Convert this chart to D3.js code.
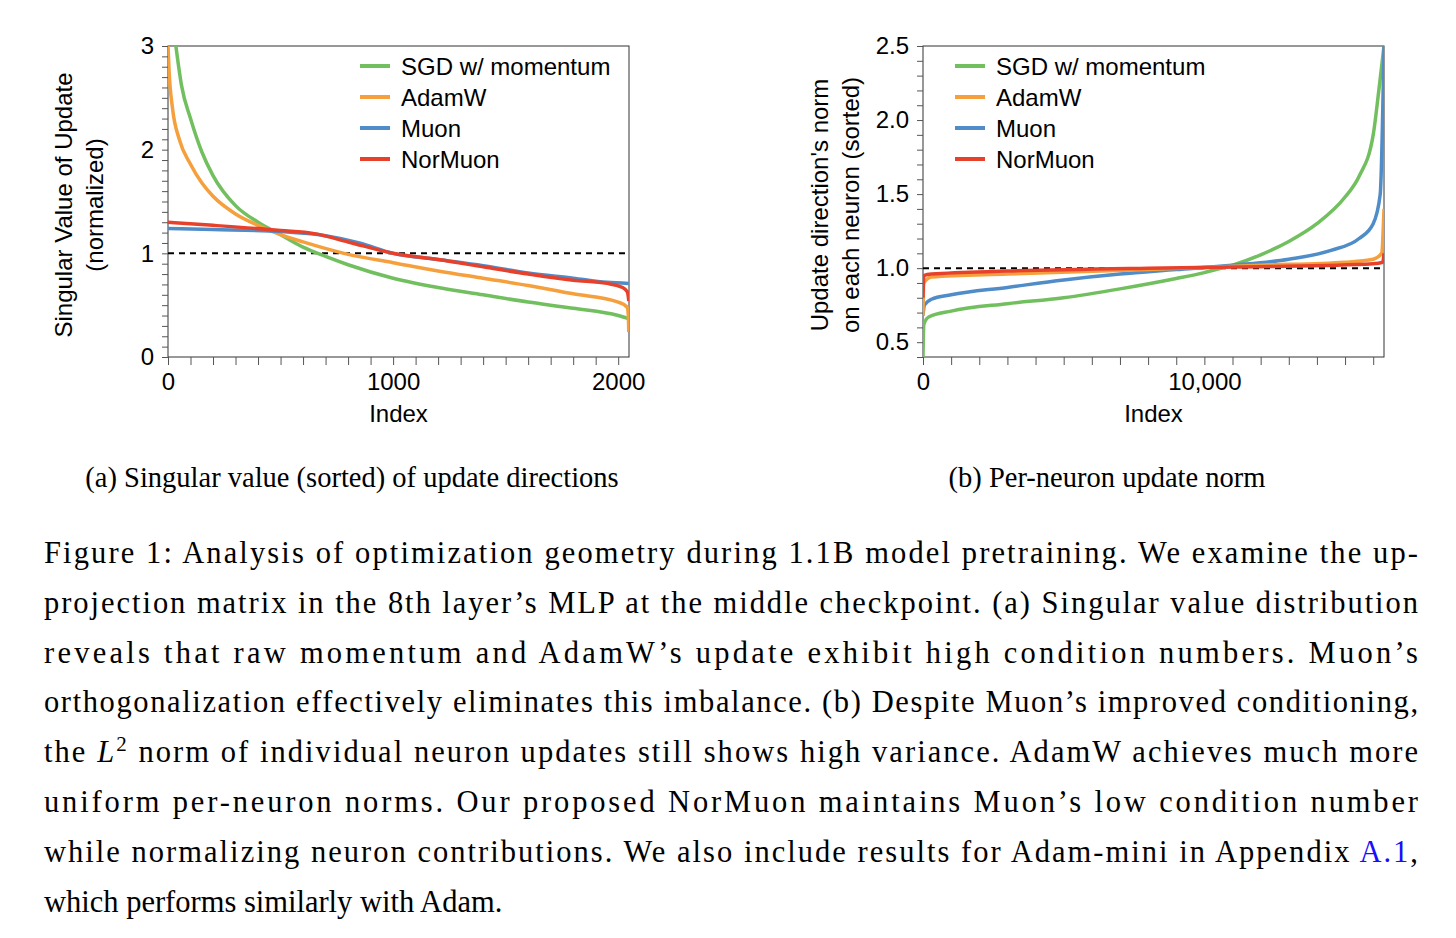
<!DOCTYPE html>
<html><head><meta charset="utf-8">
<script src="https://cdn.jsdelivr.net/npm/d3@7"></script>
<style>body{margin:0;background:#fff}</style>
</head><body><svg id="c" width="1456" height="938"></svg>
<script>
const seriesNames = ["SGD w/ momentum","AdamW","Muon","NorMuon"];
const colors = ["#72bf5f","#f5a03c","#4f8cc8","#e8412b"];
// Panel (a): singular values
const aSGD_x = [35,60,100,150,200,300,400,500,600,700,800,1000,1200,1400,1600,1800,2000,2045];
const aSGD_y = [3.0,2.62,2.3,1.98,1.75,1.46,1.3,1.18,1.06,0.97,0.89,0.76,0.67,0.6,0.53,0.47,0.4,0.37];
const aAdam_x = [0,5,20,50,100,150,200,300,400,500,600,800,1000,1200,1400,1600,1800,2000,2040,2045,2047];
const aAdam_y = [3.0,2.75,2.4,2.1,1.86,1.68,1.55,1.38,1.27,1.18,1.11,0.99,0.91,0.83,0.76,0.69,0.61,0.53,0.48,0.4,0.24];
const aMuon_x = [0,200,500,700,850,1000,1200,1400,1600,1800,1950,2047];
const aMuon_y = [1.24,1.23,1.21,1.17,1.1,1.0,0.94,0.88,0.81,0.76,0.72,0.71];
const aNor_x = [0,200,500,650,800,1000,1200,1400,1600,1800,1950,2020,2040,2045,2047];
const aNor_y = [1.3,1.27,1.22,1.19,1.11,1.0,0.94,0.87,0.8,0.74,0.71,0.67,0.63,0.58,0.54];
// Panel (b): per-neuron norms
const bSGD_x = [0,30,200,1000,3000,5000,7000,9000,10000,11000,12000,13000,14000,15000,15500,16000,16200,16384];
const bSGD_y = [0.4,0.62,0.67,0.71,0.76,0.8,0.86,0.93,0.97,1.02,1.09,1.18,1.3,1.48,1.62,1.9,2.2,2.5];
const bMuon_x = [0,50,300,1000,3000,5000,7000,9000,11000,13000,14500,15500,16000,16250,16384];
const bMuon_y = [0.68,0.75,0.79,0.82,0.87,0.92,0.96,0.99,1.02,1.06,1.12,1.2,1.3,1.5,2.5];
const bAdam_x = [0,30,300,3000,8000,12000,15000,16000,16300,16384];
const bAdam_y = [0.68,0.9,0.94,0.96,0.99,1.02,1.04,1.06,1.1,1.4];
const bNor_x = [0,30,300,3000,8000,12000,16000,16340,16384];
const bNor_y = [0.8,0.95,0.96,0.98,1.0,1.01,1.03,1.04,1.1];
const aTicks = [0,1000,2000], aYTicks=[0,1,2,3];
const bTicks = [0,10000], bYTicks=[0.5,1.0,1.5,2.0,2.5];
const captionLines = [
 "Figure 1: Analysis of optimization geometry during 1.1B model pretraining. We examine the up-",
 "projection matrix in the 8th layer\u2019s MLP at the middle checkpoint. (a) Singular value distribution",
 "reveals that raw momentum and AdamW\u2019s update exhibit high condition numbers.  Muon\u2019s",
 "orthogonalization effectively eliminates this imbalance. (b) Despite Muon\u2019s improved conditioning,",
 "the L\u00b2 norm of individual neuron updates still shows high variance. AdamW achieves much more",
 "uniform per-neuron norms.  Our proposed NorMuon maintains Muon\u2019s low condition number",
 "while normalizing neuron contributions. We also include results for Adam-mini in Appendix A.1,",
 "which performs similarly with Adam."];

const svg = d3.select("#c");
const sans = "Liberation Sans, Arial, sans-serif";
const FS = 24;
function panel(o){
  const g = svg.append("g");
  const x = d3.scaleLinear().domain(o.xd).range([o.x0,o.x1]);
  const y = d3.scaleLinear().domain(o.yd).range([o.y1,o.y0]);
  g.append("rect").attr("x",o.x0).attr("y",o.y0).attr("width",o.x1-o.x0).attr("height",o.y1-o.y0)
   .attr("fill","none").attr("stroke","#333").attr("stroke-width",1);
  const xa = g.append("g").attr("transform",`translate(0,${o.y1})`)
    .call(d3.axisBottom(x).tickValues(o.xt).tickFormat(o.xf).tickSize(0).tickPadding(16));
  xa.select(".domain").remove();
  xa.selectAll("text").attr("font-family",sans).attr("font-size",FS).attr("fill","#000");
  g.append("g").attr("transform",`translate(0,${o.y1})`)
    .call(d3.axisBottom(x).tickValues(d3.range(o.xd[0],o.xd[1]+1,o.xm)).tickFormat("").tickSize(8))
    .call(s=>{s.select(".domain").remove();s.selectAll("line").attr("stroke","#555");});
  const ya = g.append("g").attr("transform",`translate(${o.x0},0)`)
    .call(d3.axisLeft(y).tickValues(o.yt).tickFormat(o.yf).tickSize(0).tickPadding(14));
  ya.select(".domain").remove();
  ya.selectAll("text").attr("font-family",sans).attr("font-size",FS).attr("fill","#000");
  const ym = d3.range(Math.ceil(o.yd[0]*10), Math.floor(o.yd[1]*10)+1).map(v=>v/10);
  g.append("g").attr("transform",`translate(${o.x0},0)`)
    .call(d3.axisLeft(y).tickValues(ym).tickFormat("").tickSize(6))
    .call(s=>{s.select(".domain").remove();s.selectAll("line").attr("stroke","#555");});
  g.append("line").attr("x1",o.x0).attr("x2",o.x1).attr("y1",y(1)).attr("y2",y(1))
   .attr("stroke","#000").attr("stroke-width",2).attr("stroke-dasharray","6,5");
  const clip = "clip"+o.id;
  g.append("clipPath").attr("id",clip).append("rect").attr("x",o.x0).attr("y",o.y0).attr("width",o.x1-o.x0).attr("height",o.y1-o.y0);
  const line = d3.line().x(d=>x(d[0])).y(d=>y(d[1])).curve(d3.curveMonotoneX);
  o.series.forEach((s,i)=>{
    g.append("path").attr("clip-path",`url(#${clip})`).datum(d3.zip(s[0],s[1])).attr("d",line)
     .attr("fill","none").attr("stroke",colors[o.order[i]]).attr("stroke-width",3.5);
  });
  seriesNames.forEach((n,i)=>{
    const yy = o.ly + i*31;
    g.append("line").attr("x1",o.lx).attr("x2",o.lx+30).attr("y1",yy).attr("y2",yy).attr("stroke",colors[i]).attr("stroke-width",4);
    g.append("text").attr("x",o.lx+41).attr("y",yy).attr("dy","0.36em").attr("font-family",sans).attr("font-size",FS).text(n);
  });
  g.append("text").attr("x",(o.x0+o.x1)/2).attr("y",422).attr("text-anchor","middle").attr("font-family",sans).attr("font-size",FS).text("Index");
  o.yl.forEach((t,i)=>{
    g.append("text").attr("transform",`translate(${o.ylx+i*31},${o.ylc}) rotate(-90)`).attr("text-anchor","middle")
     .attr("font-family",sans).attr("font-size",FS).text(t);
  });
}
panel({id:"a",x0:168,x1:629,y0:46,y1:357,xd:[0,2048],yd:[0,3],xt:aTicks,yt:aYTicks,xf:d3.format("d"),yf:d3.format("d"),xm:100,
  series:[[aSGD_x,aSGD_y],[aAdam_x,aAdam_y],[aMuon_x,aMuon_y],[aNor_x,aNor_y]],order:[0,1,2,3],
  lx:360,ly:66,yl:["Singular Value of Update","(normalized)"],ylx:72,ylc:205});
panel({id:"b",x0:923,x1:1384,y0:46,y1:357,xd:[0,16384],yd:[0.4,2.5],xt:bTicks,yt:bYTicks,xf:d3.format(","),yf:d3.format(".1f"),xm:1000,
  series:[[bSGD_x,bSGD_y],[bMuon_x,bMuon_y],[bAdam_x,bAdam_y],[bNor_x,bNor_y]],order:[0,2,1,3],
  lx:955,ly:66,yl:["Update direction's norm","on each neuron (sorted)"],ylx:828,ylc:205});

const serif = "Liberation Serif, DejaVu Serif, serif";
svg.append("text").attr("x",352).attr("y",487).attr("text-anchor","middle").attr("font-family",serif).attr("font-size",28.5).text("(a) Singular value (sorted) of update directions");
svg.append("text").attr("x",1107).attr("y",487).attr("text-anchor","middle").attr("font-family",serif).attr("font-size",28.5).text("(b) Per-neuron update norm");
captionLines.forEach((t,i)=>{
  const tx = svg.append("text").attr("x",44).attr("y",563+i*49.8).attr("font-family",serif).attr("font-size",30.5);
  if(i<captionLines.length-1) tx.attr("textLength",1374).attr("lengthAdjust","spacing");
  if(t.includes("A.1")){
    const p = t.split("A.1");
    tx.append("tspan").text(p[0]);
    tx.append("tspan").attr("fill","#1a0dff").text("A.1");
    tx.append("tspan").text(p[1]);
  } else if(t.includes("L\u00b2")){
    const p = t.split("L\u00b2");
    tx.append("tspan").text(p[0]);
    tx.append("tspan").attr("font-style","italic").text("L");
    tx.append("tspan").attr("dy",-11).attr("font-size",21).text("2");
    tx.append("tspan").attr("dy",11).text(p[1]);
  } else tx.text(t);
});
</script></body></html>
